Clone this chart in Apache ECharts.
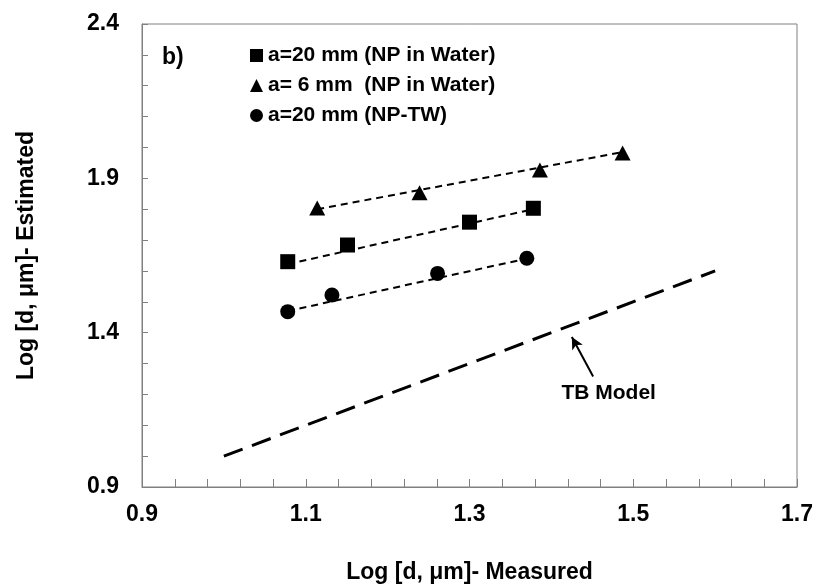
<!DOCTYPE html>
<html>
<head>
<meta charset="utf-8">
<script src="https://cdn.jsdelivr.net/npm/echarts@6/dist/echarts.min.js"></script>
<style>html,body{margin:0;padding:0;background:#fff;}#c{width:814px;height:586px;}</style>
</head>
<body>
<div id="c"></div>
<script>
// Data
const squareX = [1.078, 1.151, 1.300, 1.378];
const squareY = [1.630, 1.684, 1.758, 1.803];
const triangleX = [1.114, 1.239, 1.386, 1.487];
const triangleY = [1.804, 1.853, 1.927, 1.982];
const circleX = [1.078, 1.132, 1.261, 1.370];
const circleY = [1.468, 1.522, 1.592, 1.641];
// trend line endpoints (as seen)
const squareFitX = [1.078, 1.378];
const squareFitY = [1.622, 1.800];
const triangleFitX = [1.114, 1.487];
const triangleFitY = [1.800, 1.985];
const circleFitX = [1.078, 1.370];
const circleFitY = [1.470, 1.640];
const tbModelX = [1.0, 1.6];
const tbModelY = [1.0, 1.6];
const arrowTail = [1.451, 1.258];
const arrowTip = [1.425, 1.386];
const tbLabelPos = [1.470, 1.205];
const seriesNames = ['a=20 mm (NP in Water)', 'a= 6 mm  (NP in Water)', 'a=20 mm (NP-TW)'];

const zip = (xs, ys) => xs.map((x, i) => [x, ys[i]]);
const FONT = "'Liberation Sans', Arial, sans-serif";
const axisColor = '#808080';

const chart = echarts.init(document.getElementById('c'));
const dashLine = (data) => ({
  type: 'line', data, symbol: 'none', silent: true, z: 1,
  lineStyle: { color: '#000', width: 2, type: [7, 5] }
});
chart.setOption({
  animation: false,
  backgroundColor: '#fff',
  title: {
    text: 'b)', left: 157, top: 41,
    textStyle: { fontFamily: FONT, fontWeight: 'bold', fontSize: 23, color: '#000' }
  },
  grid: { left: 142, right: 17, top: 24, bottom: 99, show: true, borderColor: axisColor, borderWidth: 1,
    containLabel: false, outerBoundsMode: 'none' },
  legend: {
    data: seriesNames,
    orient: 'vertical', left: 245, top: 40,
    itemWidth: 13, itemHeight: 13, itemGap: 9,
    textStyle: { fontFamily: FONT, fontWeight: 'bold', fontSize: 21, color: '#000' }
  },
  xAxis: {
    type: 'value', min: 0.9, max: 1.7, interval: 0.2,
    name: 'Log [d, \u03bcm]- Measured', nameLocation: 'middle', nameGap: 74,
    nameTextStyle: { fontFamily: FONT, fontWeight: 'bold', fontSize: 23, color: '#000' },
    axisLine: { lineStyle: { color: axisColor } },
    axisTick: { inside: true, length: 8, lineStyle: { color: axisColor } },
    minorTick: { show: true, splitNumber: 5, length: 8, lineStyle: { color: axisColor } },
    splitLine: { show: false },
    axisLabel: { margin: 16, fontFamily: FONT, fontWeight: 'bold', fontSize: 23, color: '#000',
      formatter: v => v.toFixed(1) }
  },
  yAxis: {
    type: 'value', min: 0.9, max: 2.4, interval: 0.5,
    name: 'Log [d, \u03bcm]- Estimated', nameLocation: 'middle', nameGap: 104,
    nameTextStyle: { fontFamily: FONT, fontWeight: 'bold', fontSize: 23, color: '#000' },
    axisLine: { show: true, lineStyle: { color: axisColor } },
    axisTick: { inside: true, length: 6, lineStyle: { color: axisColor } },
    minorTick: { show: true, splitNumber: 5, length: 6, lineStyle: { color: axisColor } },
    splitLine: { show: false },
    axisLabel: { margin: 23, fontFamily: FONT, fontWeight: 'bold', fontSize: 23, color: '#000',
      formatter: v => v.toFixed(1) }
  },
  series: [
    dashLine(zip(squareFitX, squareFitY)),
    dashLine(zip(triangleFitX, triangleFitY)),
    dashLine(zip(circleFitX, circleFitY)),
    {
      type: 'line', data: zip(tbModelX, tbModelY), symbol: 'none', silent: true, z: 1,
      lineStyle: { color: '#000', width: 3, type: [20, 10] },
      markLine: {
        silent: true, symbol: ['none', 'arrow'], symbolSize: [9, 12],
        lineStyle: { color: '#000', width: 2, type: 'solid' },
        label: { show: false },
        data: [[{ coord: arrowTail }, { coord: arrowTip }]]
      }
    },
    {
      type: 'scatter', data: [tbLabelPos], symbolSize: 0, silent: true,
      itemStyle: { opacity: 1, color: '#000' },
      label: { show: true, position: 'inside', formatter: 'TB Model',
        fontFamily: FONT, fontWeight: 'bold', fontSize: 21, color: '#000' }
    },
    { name: seriesNames[0], type: 'scatter', symbol: 'rect', symbolSize: 15, z: 3,
      itemStyle: { color: '#000', opacity: 1 }, data: zip(squareX, squareY) },
    { name: seriesNames[1], type: 'scatter', symbol: 'triangle', symbolSize: [16, 15], z: 3,
      itemStyle: { color: '#000', opacity: 1 }, data: zip(triangleX, triangleY) },
    { name: seriesNames[2], type: 'scatter', symbol: 'circle', symbolSize: 15, z: 3,
      itemStyle: { color: '#000', opacity: 1 }, data: zip(circleX, circleY) }
  ]
});
</script>
</body>
</html>
